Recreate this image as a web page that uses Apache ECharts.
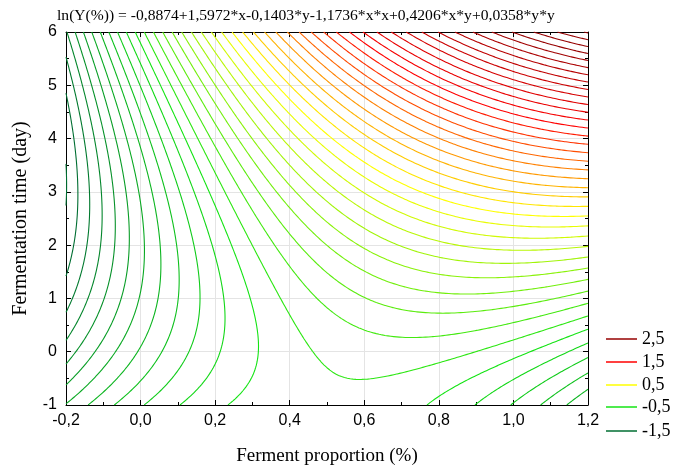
<!DOCTYPE html>
<html>
<head>
<meta charset="utf-8">
<script src="https://cdn.jsdelivr.net/npm/echarts@6/dist/echarts.min.js"></script>
<style>html,body{margin:0;padding:0;background:#fff}#c{width:678px;height:471px}</style>
</head>
<body>
<div id="c"></div>
<script>
// Fitted surface from the chart title: ln(Y) = c0 + c1*x + c2*y + c3*x*x + c4*x*y + c5*y*y
var coefficients = [-0.8874, 1.5972, -0.1403, -1.1736, 0.4206, 0.0358];
var titleText = 'ln(Y(%)) = -0,8874+1,5972*x-0,1403*y-1,1736*x*x+0,4206*x*y+0,0358*y*y';
var xRange = [-0.2, 1.2];
var yRange = [-1, 6];
var contourLevels = [-1.6,-1.5,-1.4,-1.3,-1.2,-1.1,-1.0,-0.9,-0.8,-0.7,-0.6,-0.5,-0.4,-0.3,-0.2,-0.1,0.0,
  0.1,0.2,0.3,0.4,0.5,0.6,0.7,0.8,0.9,1.0,1.1,1.2,1.3,1.4,1.5,1.6,1.7,1.8,1.9,2.0,2.1,2.2,2.3,2.4,2.5,2.6,2.7,2.8];
var legendLevels = ['2,5', '1,5', '0,5', '-0,5', '-1,5'];
var legendValues = [2.5, 1.5, 0.5, -0.5, -1.5];
var colorStops = [[-1.5, [0, 110, 50]], [-0.5, [20, 228, 20]], [0.5, [255, 255, 0]], [1.5, [255, 0, 0]], [2.5, [150, 0, 0]]];

function surface(x, y) {
  var c = coefficients;
  return c[0] + c[1]*x + c[2]*y + c[3]*x*x + c[4]*x*y + c[5]*y*y;
}
function levelColor(v) {
  if (v <= colorStops[0][0]) return rgb(colorStops[0][1]);
  for (var k = 0; k < colorStops.length - 1; k++) {
    var a = colorStops[k], b = colorStops[k+1];
    if (v <= b[0]) {
      var t = (v - a[0]) / (b[0] - a[0]);
      return rgb([0,1,2].map(function(i){ return a[1][i] + t*(b[1][i]-a[1][i]); }));
    }
  }
  return rgb(colorStops[colorStops.length-1][1]);
}
function rgb(a) { return 'rgb(' + a.map(function(v){return Math.round(v);}).join(',') + ')'; }

// marching squares on a sampled grid of the fitted surface
var N = 180;
var gx = [], gy = [], gv = [];
for (var i = 0; i <= N; i++) gx.push(xRange[0] + (xRange[1]-xRange[0]) * i / N);
for (var j = 0; j <= N; j++) gy.push(yRange[0] + (yRange[1]-yRange[0]) * j / N);
for (var j = 0; j <= N; j++) { var row = []; for (var i = 0; i <= N; i++) row.push(surface(gx[i], gy[j])); gv.push(row); }

function contour(L) {
  var segs = [];
  var pts = {};
  function edgePoint(id, x1, y1, v1, x2, y2, v2) {
    if (!pts[id]) { var t = (L - v1) / (v2 - v1); pts[id] = [x1 + t*(x2-x1), y1 + t*(y2-y1)]; }
    return id;
  }
  for (var j = 0; j < N; j++) {
    for (var i = 0; i < N; i++) {
      var bl = gv[j][i], br = gv[j][i+1], tr = gv[j+1][i+1], tl = gv[j+1][i];
      var x0 = gx[i], x1 = gx[i+1], y0 = gy[j], y1 = gy[j+1];
      var e = [];
      if ((bl >= L) !== (br >= L)) e.push(edgePoint('h'+i+','+j, x0, y0, bl, x1, y0, br)); else e.push(null);
      if ((br >= L) !== (tr >= L)) e.push(edgePoint('v'+(i+1)+','+j, x1, y0, br, x1, y1, tr)); else e.push(null);
      if ((tl >= L) !== (tr >= L)) e.push(edgePoint('h'+i+','+(j+1), x0, y1, tl, x1, y1, tr)); else e.push(null);
      if ((bl >= L) !== (tl >= L)) e.push(edgePoint('v'+i+','+j, x0, y0, bl, x0, y1, tl)); else e.push(null);
      var act = e.filter(function(v){return v !== null;});
      if (act.length === 2) segs.push(act);
      else if (act.length === 4) {
        var cv = (bl + br + tr + tl) / 4;
        if ((cv >= L) === (bl >= L)) { segs.push([e[0], e[1]]); segs.push([e[2], e[3]]); }
        else { segs.push([e[3], e[0]]); segs.push([e[1], e[2]]); }
      }
    }
  }
  // chain segments into polylines
  var byEdge = {};
  segs.forEach(function(s, k) { s.forEach(function(id){ (byEdge[id] = byEdge[id] || []).push(k); }); });
  var used = new Array(segs.length).fill(false);
  var lines = [];
  function extend(chain) {
    while (true) {
      var last = chain[chain.length-1];
      var cand = (byEdge[last] || []).filter(function(k){ return !used[k]; });
      if (!cand.length) break;
      var k = cand[0]; used[k] = true;
      chain.push(segs[k][0] === last ? segs[k][1] : segs[k][0]);
    }
  }
  for (var k = 0; k < segs.length; k++) {
    if (used[k]) continue;
    used[k] = true;
    var chain = [segs[k][0], segs[k][1]];
    extend(chain);
    chain.reverse();
    extend(chain);
    lines.push({ coords: chain.map(function(id){ return pts[id]; }) });
  }
  return lines;
}

function fmtX(v) { if (Math.abs(v) < 1e-9) v = 0; return v.toFixed(1).replace('.', ','); }
function fmtY(v) { return String(Math.round(v)); }

var series = contourLevels.map(function(L) {
  return {
    type: 'lines', coordinateSystem: 'cartesian2d', polyline: true, silent: true,
    xAxisIndex: 0, yAxisIndex: 0,
    lineStyle: { color: levelColor(L), width: 1.1, opacity: 1 },
    data: contour(L), z: 3
  };
});
legendLevels.forEach(function(name, k) {
  series.push({ type: 'line', name: name, data: [], color: levelColor(legendValues[k]),
    itemStyle: { color: levelColor(legendValues[k]) }, lineStyle: { color: levelColor(legendValues[k]) } });
});
var legendTops = [329, 352, 375, 397, 421];
var legends = legendLevels.map(function(name, k) {
  return { data: [{ name: name, icon: 'rect' }], left: 606, top: legendTops[k], orient: 'vertical',
    itemWidth: 31, itemHeight: 1.5, itemGap: 0, padding: 0, selectedMode: false,
    textStyle: { fontFamily: 'Liberation Serif', fontSize: 18, color: '#000', lineHeight: 20 } };
});

var tickLabelStyle = { fontFamily: 'Liberation Sans', fontSize: 16, color: '#000' };
var option = {
  animation: false,
  backgroundColor: '#fff',
  title: { text: titleText, left: 52, top: 3,
    textStyle: { fontFamily: 'Liberation Serif', fontSize: 15.6, fontWeight: 'normal', color: '#000' } },
  legend: legends,
  grid: { left: 66, right: 90, top: 32, bottom: 65, containLabel: false },
  xAxis: [
    { type: 'value', min: xRange[0], max: xRange[1], interval: 0.2, position: 'bottom',
      name: 'Ferment proportion (%)', nameLocation: 'middle', nameGap: 42,
      nameTextStyle: { fontFamily: 'Liberation Serif', fontSize: 19, color: '#000' },
      axisLine: { show: true, onZero: false, lineStyle: { color: '#000', width: 1 } },
      axisTick: { show: true, inside: true, length: 5, lineStyle: { color: '#000' } },
      minorTick: { show: true, splitNumber: 2, length: 3, lineStyle: { color: '#000' } },
      axisLabel: Object.assign({ formatter: fmtX, margin: 8 }, tickLabelStyle),
      splitLine: { show: true, lineStyle: { color: '#e4e4e4', width: 1 } } },
    { type: 'value', min: xRange[0], max: xRange[1], interval: 0.2, position: 'top',
      axisLine: { show: true, onZero: false, lineStyle: { color: '#000', width: 1 } },
      axisTick: { show: true, inside: true, length: 5, lineStyle: { color: '#000' } },
      minorTick: { show: true, splitNumber: 2, length: 3, lineStyle: { color: '#000' } },
      axisLabel: { show: false }, splitLine: { show: false } }
  ],
  yAxis: [
    { type: 'value', min: yRange[0], max: yRange[1], interval: 1, position: 'left',
      name: 'Fermentation time (day)', nameLocation: 'middle', nameGap: 35,
      nameTextStyle: { fontFamily: 'Liberation Serif', fontSize: 20, color: '#000' },
      axisLine: { show: true, onZero: false, lineStyle: { color: '#000', width: 1 } },
      axisTick: { show: true, inside: true, length: 5, lineStyle: { color: '#000' } },
      minorTick: { show: true, splitNumber: 2, length: 3, lineStyle: { color: '#000' } },
      axisLabel: Object.assign({ formatter: fmtY, margin: 9 }, tickLabelStyle),
      splitLine: { show: true, lineStyle: { color: '#e4e4e4', width: 1 } } },
    { type: 'value', min: yRange[0], max: yRange[1], interval: 1, position: 'right',
      axisLine: { show: true, onZero: false, lineStyle: { color: '#000', width: 1 } },
      axisTick: { show: true, inside: true, length: 5, lineStyle: { color: '#000' } },
      minorTick: { show: true, splitNumber: 2, length: 3, lineStyle: { color: '#000' } },
      axisLabel: { show: false }, splitLine: { show: false } }
  ],
  series: series
};
var chart = echarts.init(document.getElementById('c'), null, { renderer: 'canvas' });
chart.setOption(option);
</script>
</body>
</html>
